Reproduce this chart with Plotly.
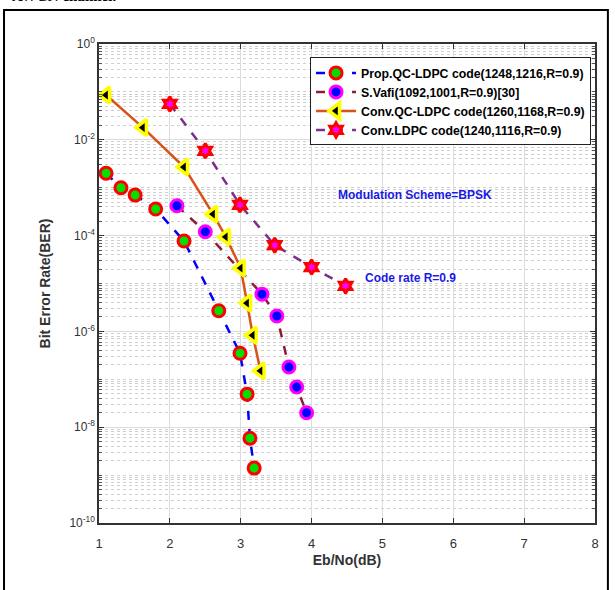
import plotly.graph_objects as go

# ---------------- data ----------------
prop_x = [1.10, 1.31, 1.51, 1.80, 2.20, 2.69, 2.99, 3.09, 3.13, 3.19]
prop_y = [2.0e-3, 1.0e-3, 7.0e-4, 3.6e-4, 7.7e-5, 2.7e-6, 3.5e-7, 4.9e-8, 5.9e-9, 1.4e-9]

vafi_x = [2.10, 2.50, 3.30, 3.51, 3.68, 3.79, 3.93]
vafi_y = [4.2e-4, 1.2e-4, 6.0e-6, 2.1e-6, 1.8e-7, 6.9e-8, 2.0e-8]

convqc_x = [1.10, 1.62, 2.20, 2.61, 2.79, 3.00, 3.09, 3.17, 3.28]
convqc_y = [8.6e-2, 1.8e-2, 2.7e-3, 2.8e-4, 9.4e-5, 2.1e-5, 3.9e-6, 8.3e-7, 1.5e-7]

convldpc_x = [2.00, 2.50, 2.99, 3.48, 4.00, 4.48]
convldpc_y = [5.6e-2, 5.9e-3, 4.4e-4, 6.3e-5, 2.2e-5, 8.9e-6]

names = [
    "Prop.QC-LDPC code(1248,1216,R=0.9)",
    "S.Vafi(1092,1001,R=0.9)[30]",
    "Conv.QC-LDPC code(1260,1168,R=0.9)",
    "Conv.LDPC code(1240,1116,R=0.9)",
]

x_ticks = [1, 2, 3, 4, 5, 6, 7, 8]
y_tickvals = [1e0, 1e-2, 1e-4, 1e-6, 1e-8, 1e-10]
y_ticktext = ["10<sup>0</sup>", "10<sup>-2</sup>", "10<sup>-4</sup>",
              "10<sup>-6</sup>", "10<sup>-8</sup>", "10<sup>-10</sup>"]

# ---------------- figure ----------------
fig = go.Figure()

fig.add_trace(go.Scatter(
    x=prop_x, y=prop_y, name=names[0], mode="lines+markers",
    line=dict(color="#0000FF", width=2.5, dash="dash"),
    marker=dict(symbol="circle", size=12, color="#00E000",
                line=dict(color="#FF0000", width=3)),
))
fig.add_trace(go.Scatter(
    x=vafi_x, y=vafi_y, name=names[1], mode="lines+markers",
    line=dict(color="#8E1A36", width=2.5, dash="dash"),
    marker=dict(symbol="circle", size=12, color="#0000FF",
                line=dict(color="#FF00FF", width=3)),
))
fig.add_trace(go.Scatter(
    x=convqc_x, y=convqc_y, name=names[2], mode="lines+markers",
    line=dict(color="#D95319", width=2.5),
    marker=dict(symbol="triangle-left", size=14, color="#000000",
                line=dict(color="#FFFF00", width=3.5)),
))
fig.add_trace(go.Scatter(
    x=convldpc_x, y=convldpc_y, name=names[3], mode="lines+markers",
    line=dict(color="#7E2F8E", width=2.5, dash="dash"),
    marker=dict(symbol="hexagram", size=11, color="#FF00FF",
                line=dict(color="#FF0000", width=3)),
))

grid_col = "#DCDCDC"
fig.update_xaxes(
    range=[1, 8], tickvals=x_ticks, ticks="inside", ticklen=5, tickcolor="#333333",
    showline=True, linecolor="#333333", linewidth=1.5, mirror="ticks",
    showgrid=True, gridcolor=grid_col, gridwidth=1, zeroline=False,
    ticklabelstandoff=8,
    tickfont=dict(family="Liberation Sans, Arial", size=13, color="#333333"),
    title=dict(text="<b>Eb/No(dB)</b>", standoff=5,
               font=dict(family="Liberation Sans, Arial", size=14, color="#333333")),
)
fig.update_yaxes(
    type="log", range=[-10, 0], tickvals=y_tickvals, ticktext=y_ticktext,
    ticks="inside", ticklen=5, tickcolor="#333333",
    showline=True, linecolor="#333333", linewidth=1.5, mirror="ticks",
    showgrid=True, gridcolor=grid_col, gridwidth=1, zeroline=False,
    minor=dict(dtick="D1", showgrid=True, gridcolor="#CFCFCF", griddash="dot",
               ticks="inside", ticklen=3, tickcolor="#555555"),
    tickfont=dict(family="Liberation Sans, Arial", size=12, color="#333333"),
    title=dict(text="<b>Bit Error Rate(BER)</b>", standoff=15,
               font=dict(family="Liberation Sans, Arial", size=14, color="#333333")),
)

fig.add_annotation(x=5.46, y=-3.15, xref="x", yref="y", text="<b>Modulation Scheme=BPSK</b>",
                   showarrow=False, font=dict(family="Liberation Sans, Arial", size=12, color="#1A1AE6"))
fig.add_annotation(x=5.40, y=-4.89, xref="x", yref="y", text="<b>Code rate R=0.9</b>",
                   showarrow=False, font=dict(family="Liberation Sans, Arial", size=12, color="#1A1AE6"))

# cropped caption at the very top of the page
fig.add_annotation(x=-0.18, y=1.10, xref="paper", yref="paper", xanchor="left", yanchor="middle",
                   text="<b>AWGN channel.</b>", showarrow=False,
                   font=dict(family="Liberation Serif, Times New Roman", size=15, color="#000000"))

# outer figure frame
fig.add_shape(type="rect", xref="paper", yref="paper", x0=-0.1915, x1=1.026, y0=-0.16, y1=1.071,
              line=dict(color="#000000", width=2), fillcolor="rgba(0,0,0,0)", layer="below")

fig.update_layout(
    width=615, height=590,
    margin=dict(l=99, r=20, t=44, b=67, autoexpand=False),
    paper_bgcolor="white", plot_bgcolor="white",
    font=dict(family="Liberation Sans, Arial"),
    legend=dict(
        x=0.992, y=0.972, xanchor="right", yanchor="top",
        bgcolor="white", bordercolor="#222222", borderwidth=1,
        font=dict(family="Liberation Sans, Arial", size=12.3, color="#000000", weight="bold"),
        itemwidth=40, tracegroupgap=0,
    ),
    showlegend=True,
)

fig.write_html("out.html", config={"displayModeBar": False},
               post_script="document.body.style.margin='0';document.body.style.overflow='hidden';")
